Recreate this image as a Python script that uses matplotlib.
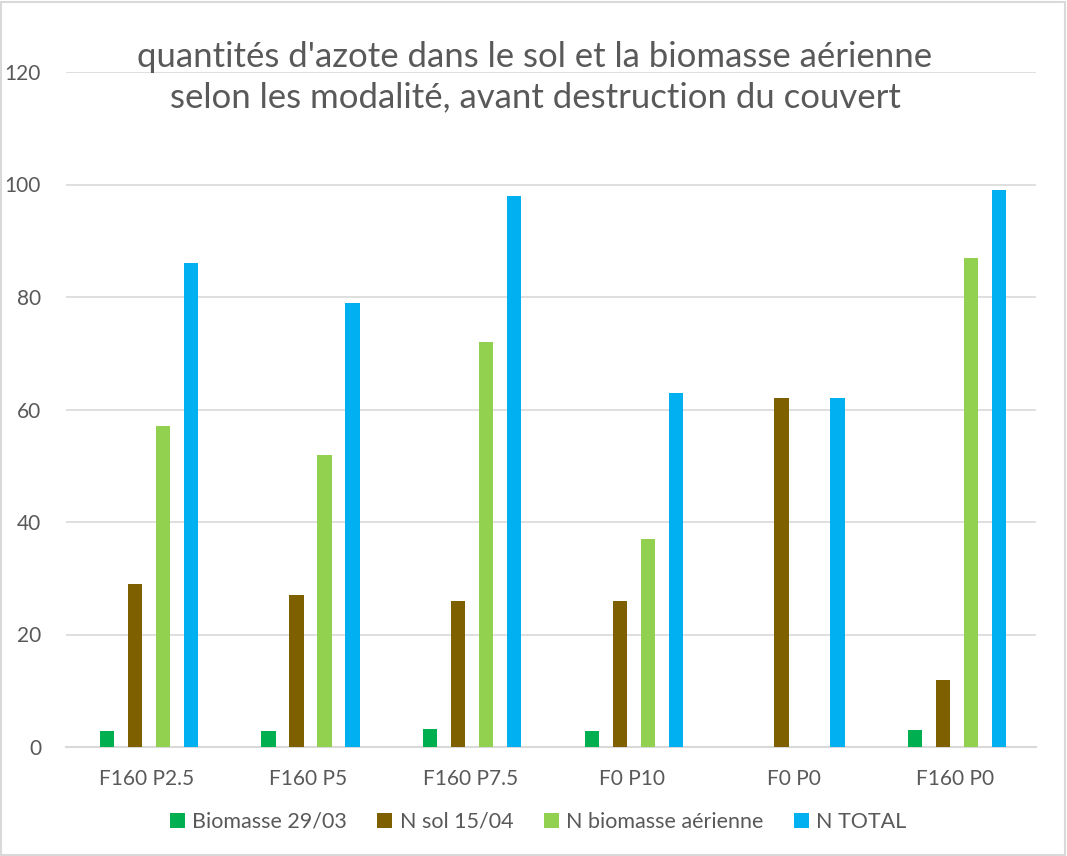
import matplotlib
matplotlib.use("Agg")
import matplotlib.pyplot as plt
import numpy as np
from matplotlib.patches import Rectangle

categories = ["F160 P2.5", "F160 P5", "F160 P7.5", "F0 P10", "F0 P0", "F160 P0"]
series_names = ["Biomasse 29/03", "N sol 15/04", "N biomasse aérienne", "N TOTAL"]
biomasse = [2.8, 2.8, 3.2, 2.8, 0, 3.0]
n_sol = [29, 27, 26, 26, 62, 12]
n_bio = [57, 52, 72, 37, 0, 87]
n_total = [86, 79, 98, 63, 62, 99]
colors = ["#00B050", "#7F6000", "#92D050", "#00B0F0"]
yticks = [0, 20, 40, 60, 80, 100, 120]

plt.rcParams['font.family'] = ['Lato', 'DejaVu Sans']
fig = plt.figure(figsize=(10.67, 8.56), dpi=100)
ax = fig.add_axes([66/1067, 1-747/856, 970/1067, 675/856])

x = np.arange(len(categories))
spacing = 0.173
width = 0.088
data = [biomasse, n_sol, n_bio, n_total]
for i, (vals, name, c) in enumerate(zip(data, series_names, colors)):
    ax.bar(x + (i - 1.5) * spacing + 0.012, vals, width=width, color=c, label=name, zorder=3)

ax.set_xlim(-0.5, len(categories) - 0.5)
ax.set_ylim(0, 120)
ax.set_yticks(yticks)
ax.set_xticks(x)
ax.set_xticklabels(categories)
ax.grid(axis='y', color='#D9D9D9', linewidth=1.2, zorder=0)
for s in ['top', 'right', 'left']:
    ax.spines[s].set_visible(False)
ax.spines['bottom'].set_color('#D9D9D9')
ax.spines['bottom'].set_linewidth(1.5)
ax.tick_params(axis='both', length=0, labelsize=15, colors='#595959')
ax.tick_params(axis='y', pad=18)
ax.tick_params(axis='x', pad=16)

fig.text(535/1067, 1-77/856, "quantités d'azote dans le sol et la biomasse aérienne\nselon les modalité, avant destruction du couvert",
         ha='center', va='center', fontsize=25, color='#595959', linespacing=1.3)

leg = fig.legend(loc='center', bbox_to_anchor=(538/1067, 1-822/856), ncol=4, frameon=False,
                 fontsize=15.5, handlelength=0.7, handleheight=0.7, handletextpad=0.35,
                 columnspacing=1.4, labelcolor='#595959')

fig.patches.append(Rectangle((0.001, 0.001), 0.997, 0.997, transform=fig.transFigure,
                             fill=False, edgecolor='#D9D9D9', linewidth=1.5))
fig.savefig("out.png", dpi=100)
